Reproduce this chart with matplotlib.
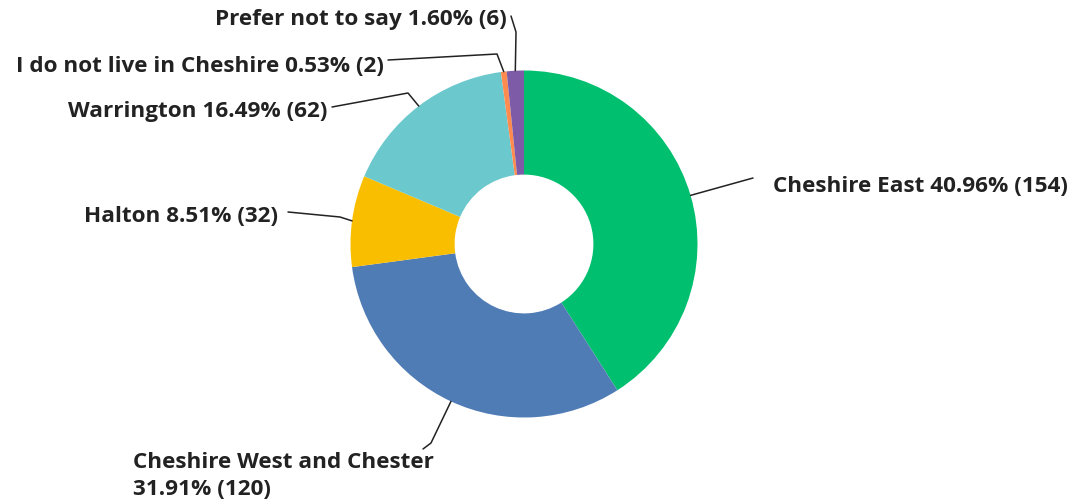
import matplotlib.pyplot as plt
import numpy as np

# survey answers, in drawing order (clockwise from 12 o'clock)
areas = [
    "Cheshire East",
    "Cheshire West and Chester",
    "Halton",
    "Warrington",
    "I do not live in Cheshire",
    "Prefer not to say",
]
counts = [154, 120, 32, 62, 2, 6]
percents = [40.96, 31.91, 8.51, 16.49, 0.53, 1.60]
colors = ["#00bf6f", "#507cb6", "#f9be00", "#6bc8cd", "#ff8b4f", "#7d5ba6"]

W, H = 1079, 504
CX, CY, R = 524, 260, 173.5

# label anchor (x, y from top), alignment, and elbow of the leader line
label_layout = {
    "Cheshire East": dict(text_xy=(773, 186), ha="left", line=[(753, 178)]),
    "Cheshire West and Chester": dict(text_xy=(133, 476), ha="left", line=[(423, 449), (431, 443)]),
    "Halton": dict(text_xy=(278, 217), ha="right", line=[(288, 212), (340, 217)]),
    "Warrington": dict(text_xy=(327, 112), ha="right", line=[(332, 107), (408, 93)]),
    "I do not live in Cheshire": dict(text_xy=(384, 66), ha="right", line=[(388, 60), (497, 54)]),
    "Prefer not to say": dict(text_xy=(507, 20), ha="right", line=[(511, 16), (516, 32)]),
}


def main():
    plt.rcParams["font.family"] = ["Open Sans", "DejaVu Sans"]

    fig = plt.figure(figsize=(W / 100, H / 100), dpi=100)
    ax = fig.add_axes([0, 0, 1, 1])

    wedges, _ = ax.pie(
        counts,
        colors=colors,
        startangle=90,
        counterclock=False,
        center=(CX, CY),
        radius=R,
        wedgeprops=dict(width=R * 0.6, linewidth=0),
        frame=True,
    )
    ax.set_xlim(0, W)
    ax.set_ylim(0, H)
    ax.set_aspect("equal")
    ax.axis("off")

    for w, name, n, p in zip(wedges, areas, counts, percents):
        lay = label_layout[name]
        mid = np.deg2rad((w.theta1 + w.theta2) / 2)
        edge = (CX + R * np.cos(mid), CY + R * np.sin(mid))

        pts = [(x, H - y) for x, y in lay["line"]] + [edge]
        ax.plot([q[0] for q in pts], [q[1] for q in pts], color="#222222",
                lw=1.1, solid_joinstyle="round", solid_capstyle="round")

        if name == "Cheshire West and Chester":
            txt = f"{name}\n{p:.2f}% ({n})"
        else:
            txt = f"{name} {p:.2f}% ({n})"
        tx, ty = lay["text_xy"]
        ax.text(tx, H - ty, txt, ha=lay["ha"], va="center", fontsize=16.2,
                fontweight="bold", color="#222222", linespacing=1.42)

    fig.savefig("out.png", dpi=100)
    plt.close(fig)


if __name__ == "__main__":
    main()
